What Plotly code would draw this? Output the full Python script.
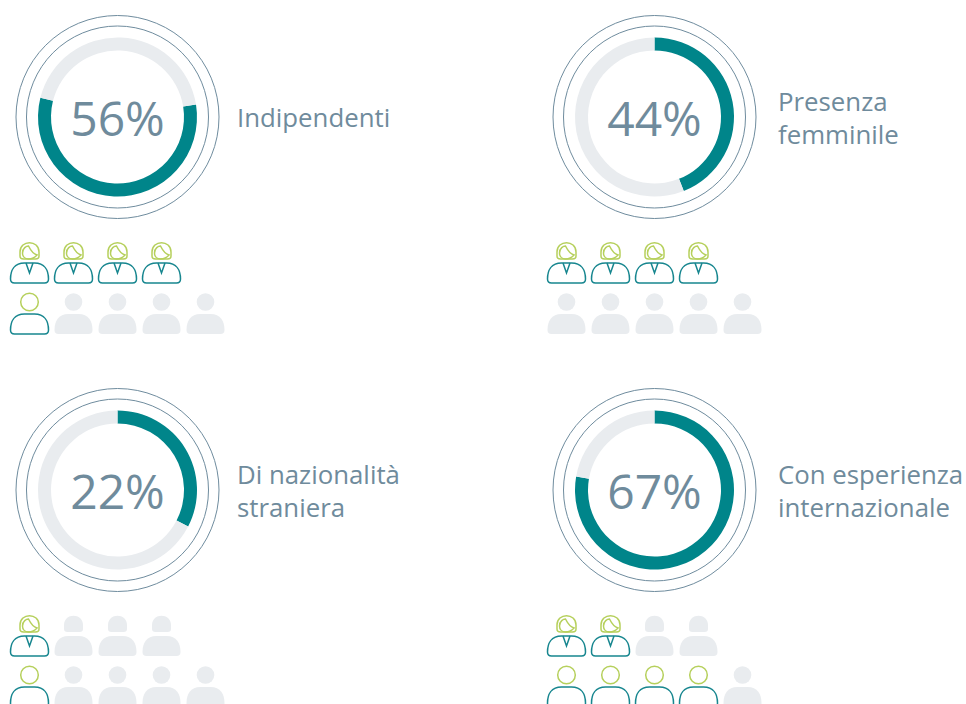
import plotly.graph_objects as go

# ---- data ----
labels = ["Indipendenti", "Presenza<br>femminile", "Di nazionalità<br>straniera", "Con esperienza<br>internazionale"]
percent_text = ["56%", "44%", "22%", "67%"]
arc_drawn = [56.4, 44, 32.6, 77.7]   # share of the ring that the picture actually paints teal
rotations = [81, 0, 0, 0]
women_filled = [4, 4, 1, 2]
men_filled = [1, 0, 1, 4]
women_total = 4
men_total = 5

# ---- layout / style ----
W, H = 966, 704
centers = [(117.5, 117), (654.5, 117), (117.5, 490), (654.5, 490)]
label_x = [237, 778, 237, 778]
TEAL, RING, TRACK, TEXT, GREEN, OUT = "#00858a", "#6f8c9e", "#e9ecef", "#6f8b9c", "#b6d05c", "#17868f"
FONT = "Open Sans"
R_OUT, R_HOLE = 79.5, 66.5
NOFILL = "rgba(0,0,0,0)"

fig = go.Figure()
shapes = []

def circle(cx, cy, r, **kw):
    return dict(type="circle", xref="x", yref="y", x0=cx - r, x1=cx + r, y0=cy - r, y1=cy + r, **kw)

def path(d, **kw):
    return dict(type="path", xref="x", yref="y", path=d, **kw)

def body(x, t):
    b = t + 20
    return (f"M {x-15} {b} Q {x-19} {b} {x-19} {b-4} C {x-19} {t+7} {x-15} {t} {x-5} {t} "
            f"L {x+5} {t} C {x+15} {t} {x+19} {t+7} {x+19} {b-4} Q {x+19} {b} {x+15} {b} Z")

def hair(x, cy):
    return (f"M {x-9.5} {cy} C {x-9.5} {cy-12.5} {x+9.5} {cy-12.5} {x+9.5} {cy} L {x+9.5} {cy+4} "
            f"Q {x+9.5} {cy+7} {x+6} {cy+7} L {x-6} {cy+7} Q {x-9.5} {cy+7} {x-9.5} {cy+4} Z")

def face(x, cy):
    return (f"M {x-7} {cy+1} C {x-7} {cy-4} {x-3} {cy-6} {x-1} {cy-6} C {x+1} {cy-2} {x+4} {cy+2} {x+7.5} {cy+3} "
            f"C {x+5} {cy+6} {x+1} {cy+7} {x-1} {cy+7} C {x-5} {cy+7} {x-7} {cy+4} {x-7} {cy+1} Z")

def woman(x, y, on):
    if on:
        g = dict(line=dict(color=GREEN, width=1.5), fillcolor=NOFILL)
        t = dict(line=dict(color=OUT, width=1.5), fillcolor=NOFILL)
        shapes.append(path(hair(x, y), **g))
        shapes.append(path(face(x, y), **g))
        shapes.append(path(body(x, y + 11), **t))
        shapes.append(path(f"M {x-3.5} {y+11} L {x} {y+21} L {x+3.5} {y+11}", **t))
    else:
        g = dict(line=dict(width=0), fillcolor=TRACK)
        shapes.append(path(hair(x, y), **g))
        shapes.append(path(body(x, y + 11), **g))

def man(x, y, on):
    if on:
        shapes.append(circle(x, y, 8.8, line=dict(color=GREEN, width=1.5), fillcolor=NOFILL))
        shapes.append(path(body(x, y + 12), line=dict(color=OUT, width=1.5), fillcolor=NOFILL))
    else:
        shapes.append(circle(x, y, 8.8, line=dict(width=0), fillcolor=TRACK))
        shapes.append(path(body(x, y + 12), line=dict(width=0), fillcolor=TRACK))

for i, (cx, cy) in enumerate(centers):
    fig.add_trace(go.Pie(
        values=[arc_drawn[i], 100 - arc_drawn[i]], sort=False, direction="clockwise", rotation=rotations[i],
        hole=R_HOLE / R_OUT, textinfo="none", showlegend=False, hoverinfo="skip",
        marker=dict(colors=[TEAL, TRACK], line=dict(width=0)),
        domain=dict(x=[(cx - R_OUT) / W, (cx + R_OUT) / W], y=[1 - (cy + R_OUT) / H, 1 - (cy - R_OUT) / H]),
    ))
    for r in (101.5, 91):
        shapes.append(circle(cx, cy, r, line=dict(color=RING, width=1)))
    for k in range(women_total):
        woman(cx - 88 + 44 * k, cy + 135, k < women_filled[i])
    for k in range(men_total):
        man(cx - 88 + 44 * k, cy + 185, k < men_filled[i])

fig.add_trace(go.Scatter(
    x=[c[0] for c in centers], y=[c[1] + 7 for c in centers], mode="text",
    text=percent_text, textposition="middle center",
    textfont=dict(family=FONT, size=48, color=TEXT, weight=400), showlegend=False, hoverinfo="skip",
))
fig.add_trace(go.Scatter(
    x=label_x, y=[c[1] + 4 for c in centers], mode="text", text=labels, textposition="middle right",
    textfont=dict(family=FONT, size=25.8, color=TEXT), showlegend=False, hoverinfo="skip",
))

fig.update_layout(
    width=W, height=H, margin=dict(l=0, r=0, t=0, b=0), paper_bgcolor="white", plot_bgcolor="white",
    xaxis=dict(range=[0, W], visible=False, fixedrange=True),
    yaxis=dict(range=[H, 0], visible=False, fixedrange=True),
    shapes=shapes,
)
fig.write_html("out.html", config=dict(displayModeBar=False),
               post_script="document.body.style.margin='0';document.body.style.overflow='hidden';")
